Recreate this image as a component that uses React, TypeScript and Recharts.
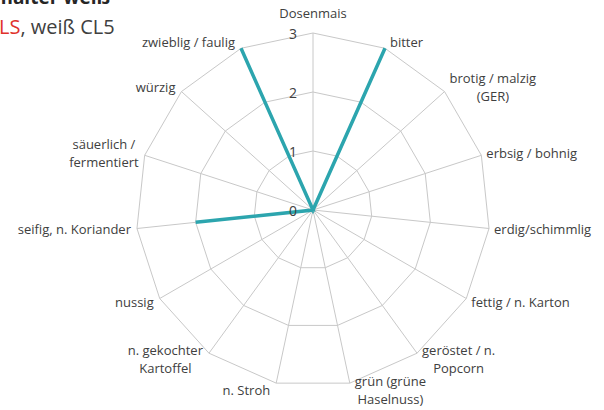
import React from 'react';
import { RadarChart, Radar, PolarGrid, PolarAngleAxis, PolarRadiusAxis } from 'recharts';

// attributes clockwise from the top
const attributes = [
  'Dosenmais',
  'bitter',
  'brotig / malzig\n(GER)',
  'erbsig / bohnig',
  'erdig/schimmlig',
  'fettig / n. Karton',
  'geröstet / n.\nPopcorn',
  'grün (grüne\nHaselnuss)',
  'n. Stroh',
  'n. gekochter\nKartoffel',
  'nussig',
  'seifig, n. Koriander',
  'säuerlich /\nfermentiert',
  'würzig',
  'zwieblig / faulig',
];
const scores = [0, 3, 0, 0, 0, 0, 0, 0, 0, 0, 0, 2, 0, 0, 3];
const radiusTicks = [0, 1, 2, 3];

const data = attributes.map((name, i) => ({ name, value: scores[i] }));

const W = 604;
const H = 410;
const CX = 313;
const CY = 210;
const R = 177;
const FONT = "'Open Sans', sans-serif";
const LABEL_COLOR = '#404040';
const LABEL_SIZE = 13;

let ctx: CanvasRenderingContext2D | null = null;
const measure = (s: string) => {
  if (!ctx) ctx = document.createElement('canvas').getContext('2d');
  if (!ctx) return s.length * 6.8;
  ctx.font = `${LABEL_SIZE}px ${FONT}`;
  return ctx.measureText(s).width;
};

const AngleTick = (props: any) => {
  const { x, y, payload } = props;
  const dx = x - CX;
  const dy = y - CY;
  const d = Math.sqrt(dx * dx + dy * dy) || 1;
  const ux = dx / d;
  const uy = dy / d;
  const vx = CX + ux * R;
  const vy = CY + uy * R;
  const lines = String(payload.value).split('\n');
  const w = Math.max(...lines.map(measure));
  let midX: number;
  let midY: number;
  if (Math.abs(ux) < 0.1) {
    midX = vx;
    midY = vy + uy * 20;
  } else {
    midX = ux > 0 ? vx + 5 + w / 2 : vx - 6 - w / 2;
    midY = vy + uy * 7;
  }
  const lh = 18;
  const y0 = midY - ((lines.length - 1) * lh) / 2;
  return (
    <g>
      {lines.map((l, i) => (
        <text
          key={i}
          x={midX}
          y={y0 + i * lh}
          textAnchor="middle"
          dominantBaseline="central"
          fontSize={LABEL_SIZE}
          fontFamily={FONT}
          fill={LABEL_COLOR}
        >
          {l}
        </text>
      ))}
    </g>
  );
};

const RadiusTick = (props: any) => {
  const { x, y, payload } = props;
  return (
    <text
      x={x - 16}
      y={y}
      textAnchor="end"
      dominantBaseline="central"
      fontSize={14}
      fontFamily={FONT}
      fill={LABEL_COLOR}
    >
      {payload.value}
    </text>
  );
};

export default function App() {
  return (
    <div style={{ position: 'absolute', left: 0, top: 0, width: W, height: H, background: '#fff', overflow: 'hidden' }}>
      <svg width={W} height={H} style={{ position: 'absolute', left: 0, top: 0 }}>
        <text x={110} y={4} textAnchor="end" fontSize={19} fontWeight="bold" fontFamily={FONT} fill="#262626">
          kemalter weiß
        </text>
        <text x={-1} y={34} fontSize={20} fontFamily={FONT} fill={LABEL_COLOR}>
          <tspan fill="#e0312b">LS</tspan>, weiß CL5
        </text>
      </svg>
      <RadarChart
        width={W}
        height={H}
        data={data}
        cx={CX}
        cy={CY}
        outerRadius={R}
        style={{ position: 'absolute', left: 0, top: 0 }}
      >
        <PolarGrid gridType="polygon" stroke="#c8c8c8" strokeWidth={1} />
        <PolarAngleAxis dataKey="name" tick={<AngleTick />} tickLine={false} axisLine={false} />
        <PolarRadiusAxis
          angle={90}
          domain={[0, 3]}
          ticks={radiusTicks as any}
          tickCount={4}
          tick={<RadiusTick />}
          axisLine={false}
          tickLine={false}
        />
        <Radar
          dataKey="value"
          stroke="#2ca5ae"
          strokeWidth={3.5}
          fill="none"
          fillOpacity={0}
          dot={false}
          isAnimationActive={false}
        />
      </RadarChart>
    </div>
  );
}
